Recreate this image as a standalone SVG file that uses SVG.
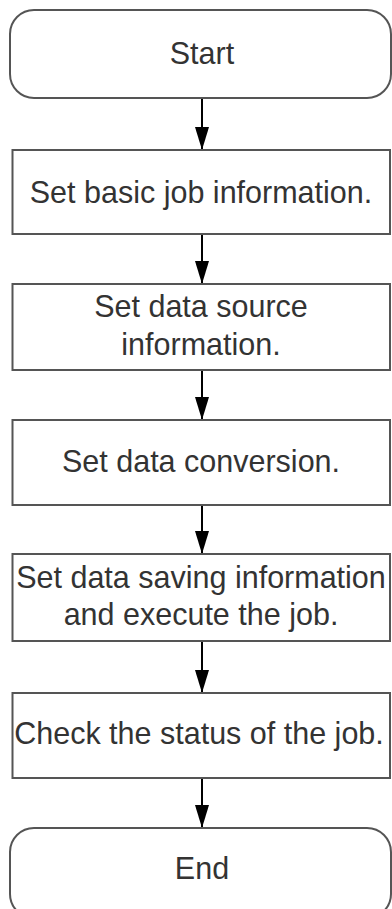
<svg xmlns="http://www.w3.org/2000/svg" width="392" height="909" viewBox="0 0 392 909">
<style>
.box{fill:#fff;stroke:#555;stroke-width:2}
.t{font-family:"Liberation Sans",Arial,sans-serif;font-size:30.5px;fill:#333;text-anchor:middle}
.c{stroke:#000;stroke-width:2;fill:none}
</style>
<defs>
<marker id="ah" markerUnits="userSpaceOnUse" markerWidth="24" markerHeight="16" viewBox="0 0 24 16" refX="23" refY="8" orient="auto">
<path d="M0,1 L23,8 L0,15 Z" fill="#000"/>
</marker>
</defs>
<rect width="392" height="909" fill="#fff"/>
<g id="connectors">
<line class="c" x1="202" y1="98" x2="202" y2="150" marker-end="url(#ah)"/>
<line class="c" x1="202" y1="234" x2="202" y2="284" marker-end="url(#ah)"/>
<line class="c" x1="202" y1="370" x2="202" y2="420" marker-end="url(#ah)"/>
<line class="c" x1="202" y1="505" x2="202" y2="554" marker-end="url(#ah)"/>
<line class="c" x1="202" y1="641" x2="202" y2="693" marker-end="url(#ah)"/>
<line class="c" x1="202" y1="778" x2="202" y2="828" marker-end="url(#ah)"/>
</g>
<g id="start">
<rect class="box" x="10" y="10" width="381" height="88" rx="24" ry="24"/>
<text class="t" x="202" y="64">Start</text>
</g>
<g id="step1">
<rect class="box" x="12.5" y="150" width="377.5" height="84"/>
<text class="t" x="201" y="203">Set basic job information.</text>
</g>
<g id="step2">
<rect class="box" x="12.5" y="284" width="377.5" height="86"/>
<text class="t" x="201" y="317">Set data source</text>
<text class="t" x="201" y="355">information.</text>
</g>
<g id="step3">
<rect class="box" x="12.5" y="420" width="377.5" height="85"/>
<text class="t" x="201" y="472">Set data conversion.</text>
</g>
<g id="step4">
<rect class="box" x="12.5" y="554" width="377.5" height="87"/>
<text class="t" x="201" y="588">Set data saving information</text>
<text class="t" x="201" y="625">and execute the job.</text>
</g>
<g id="step5">
<rect class="box" x="12.5" y="693" width="377.5" height="85"/>
<text class="t" x="199" y="744">Check the status of the job.</text>
</g>
<g id="end">
<rect class="box" x="10" y="828" width="381" height="90" rx="24" ry="24"/>
<text class="t" x="202" y="879">End</text>
</g>
</svg>
